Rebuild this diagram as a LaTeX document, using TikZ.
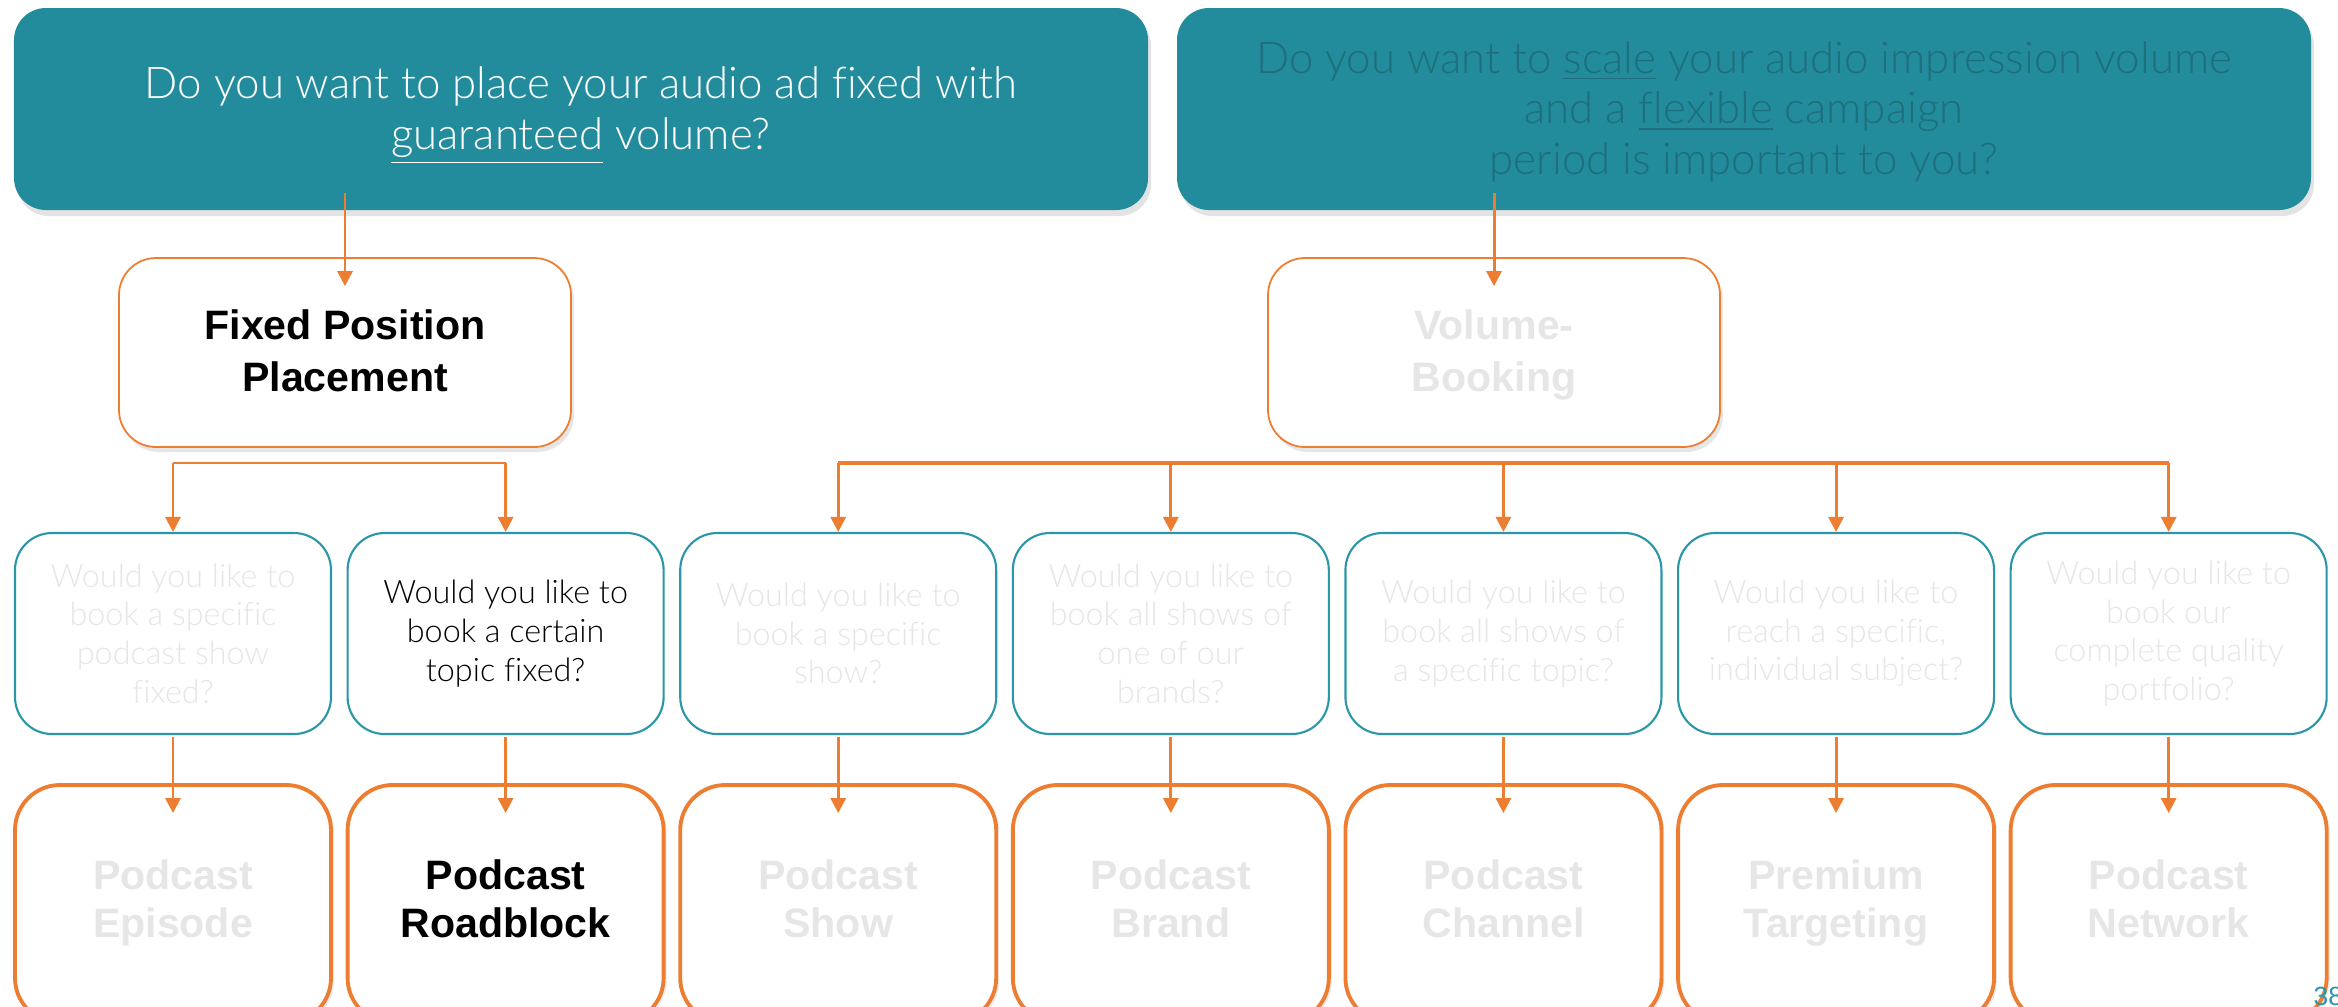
\documentclass[tikz,border=0pt]{standalone}
\usepackage{fontspec}
\setmainfont{Liberation Sans}
\newfontfamily\lightfont[Ligatures=CommonOff]{Lato Light}
\usetikzlibrary{positioning,shadows,calc,arrows.meta}

\definecolor{tealfill}{HTML}{228C9C}
\definecolor{tealdark}{HTML}{1E6E7B}
\definecolor{tealline}{HTML}{2A97A8}
\definecolor{orangeline}{HTML}{ED7D31}
\definecolor{greytext}{HTML}{E6E6E6}

\begin{document}
\begin{tikzpicture}[auto]

    \useasboundingbox (0,0) rectangle (23.38,-10.06);
    \clip (0,0) rectangle (23.38,-10.06);

    % Styles
    \tikzstyle{topbox} = [rectangle, rounded corners=0.32cm, minimum width=11.34cm, minimum height=2.02cm, align=center, fill=tealfill, font=\lightfont\fontsize{12.45}{14.4}\selectfont, text depth=0.6pt, drop shadow={opacity=0.22, shadow xshift=0.03cm, shadow yshift=-0.06cm}]
    \tikzstyle{choice} = [rectangle, rounded corners=0.37cm, minimum width=4.52cm, minimum height=1.89cm, align=center, draw=orangeline, line width=0.5pt, fill=white, font=\fontsize{11.7}{14.8}\selectfont\bfseries, text depth=1pt, drop shadow={opacity=0.2, shadow xshift=0.03cm, shadow yshift=-0.05cm}]
    \tikzstyle{question} = [rectangle, rounded corners=0.37cm, minimum width=3.16cm, minimum height=2.01cm, align=center, draw=tealline, line width=0.6pt, fill=white, text=greytext, font=\lightfont\fontsize{9.2}{11}\selectfont]
    \tikzstyle{product} = [rectangle, rounded corners=0.45cm, minimum width=3.16cm, minimum height=2.38cm, align=center, draw=orangeline, line width=1.1pt, fill=white, text=greytext, font=\fontsize{11.7}{13.8}\selectfont\bfseries, text depth=3.2pt, drop shadow={opacity=0.15, shadow xshift=0.03cm, shadow yshift=-0.03cm}]
    \tikzstyle{arrow} = [draw=orangeline, line width=0.85pt, -{Triangle[length=1.5mm, width=1.5mm]}]
    \tikzstyle{bar} = [draw=orangeline, line width=1.1pt]

    % Nodes
    \node (askfixed) [topbox, text=white] at (5.81,-1.09) {Do you want to place your audio ad fixed with\\\underline{guaranteed} volume?};
    \node (askscale) [topbox, text=tealdark] at (17.44,-1.09) {Do you want to \underline{scale} your audio impression volume\\and a \underline{flexible} campaign\\period is important to you?};

    \node (fixed) [choice] at (3.45,-3.525) {Fixed Position\\Placement};
    \node (volume) [choice, text=greytext] at (14.94,-3.525) {Volume-\\Booking};

    \node (q1) [question] at (1.73,-6.335) {Would you like to\\book a specific\\podcast show\\fixed?};
    \node (q2) [question, right=0.145cm of q1, text=black] {Would you like to\\book a certain\\topic fixed?};
    \node (q3) [question, right=0.145cm of q2] {Would you like to\\book a specific\\show?};
    \node (q4) [question, right=0.145cm of q3] {Would you like to\\book all shows of\\one of our\\brands?};
    \node (q5) [question, right=0.145cm of q4] {Would you like to\\book all shows of\\a specific topic?};
    \node (q6) [question, right=0.145cm of q5] {Would you like to\\reach a specific,\\individual subject?};
    \node (q7) [question, right=0.145cm of q6] {Would you like to\\book our\\complete quality\\portfolio?};

    \node (episode) [product, below=0.48cm of q1] {Podcast\\Episode};
    \node (roadblock) [product, below=0.48cm of q2, text=black] {Podcast\\Roadblock};
    \node (show) [product, below=0.48cm of q3] {Podcast\\Show};
    \node (brand) [product, below=0.48cm of q4] {Podcast\\Brand};
    \node (channel) [product, below=0.48cm of q5] {Podcast\\Channel};
    \node (targeting) [product, below=0.48cm of q6] {Premium\\Targeting};
    \node (network) [product, below=0.48cm of q7] {Podcast\\Network};

    \node (pagenum) [anchor=base west, inner sep=0pt, text=tealline, font=\fontsize{7.5}{8}\selectfont] at (23.13,-10.05) {38};

    \coordinate (fixbar) at ($(fixed.south)+(0,-0.15)$);
    \coordinate (volbar) at ($(volume.south)+(0,-0.15)$);

    % Arrows
    \draw [arrow] ($(fixed.north |- askfixed.south)+(0,0.18)$) -- ([yshift=-0.29cm]fixed.north);
    \draw [arrow] ($(volume.north |- askscale.south)+(0,0.18)$) -- ([yshift=-0.29cm]volume.north);

    \draw [draw=orangeline, line width=0.4pt] (q1.north |- fixbar) -- (q2.north |- fixbar);
    \draw [arrow] (q1.north |- fixbar) -- (q1.north);
    \draw [arrow] (q2.north |- fixbar) -- (q2.north);

    \draw [bar] (q3.north |- volbar) -- (q7.north |- volbar);
    \draw [arrow] (q3.north |- volbar) -- (q3.north);
    \draw [arrow] (q4.north |- volbar) -- (q4.north);
    \draw [arrow] (q5.north |- volbar) -- (q5.north);
    \draw [arrow] (q6.north |- volbar) -- (q6.north);
    \draw [arrow] (q7.north |- volbar) -- (q7.north);

    \draw [arrow] ([yshift=-0.02cm]q1.south) -- ([yshift=-0.3cm]episode.north);
    \draw [arrow] ([yshift=-0.02cm]q2.south) -- ([yshift=-0.3cm]roadblock.north);
    \draw [arrow] ([yshift=-0.02cm]q3.south) -- ([yshift=-0.3cm]show.north);
    \draw [arrow] ([yshift=-0.02cm]q4.south) -- ([yshift=-0.3cm]brand.north);
    \draw [arrow] ([yshift=-0.02cm]q5.south) -- ([yshift=-0.3cm]channel.north);
    \draw [arrow] ([yshift=-0.02cm]q6.south) -- ([yshift=-0.3cm]targeting.north);
    \draw [arrow] ([yshift=-0.02cm]q7.south) -- ([yshift=-0.3cm]network.north);

\end{tikzpicture}
\end{document}
